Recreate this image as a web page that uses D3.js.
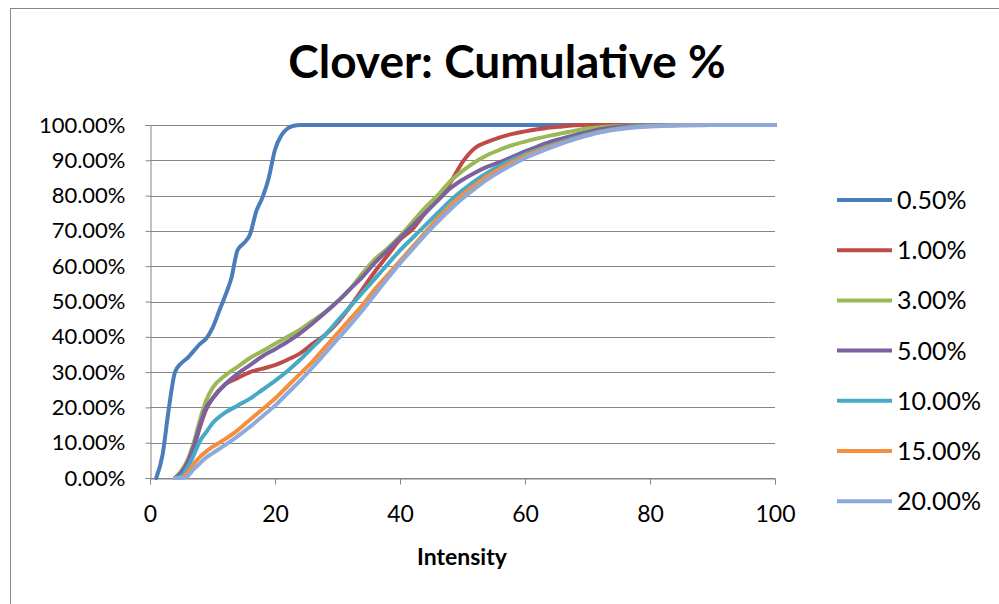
<!DOCTYPE html>
<html><head><meta charset="utf-8">
<script src="https://cdn.jsdelivr.net/npm/d3@7"></script>
<style>body{margin:0;background:#fff}svg{display:block}</style>
</head><body>
<svg id="c" width="999" height="604"></svg>
<script>
// ---- data ----
const seriesNames = ["0.50%","1.00%","3.00%","5.00%","10.00%","15.00%","20.00%"];
const seriesColors = ["#4A7EBB","#BE4B48","#98B954","#7D60A0","#46AAC5","#F38F3E","#8EA9DB"];
const xTicks = [0,20,40,60,80,100];
const yTicks = [0,10,20,30,40,50,60,70,80,90,100];

const intensityFine = [1,2,3,4,5,6,7,8,9,10,11,12,13,14,15,16,17,18,19,20,21,22,23,24,100];
const cum050 = [0,6.5,19.5,30,32.5,34,36,38,39.5,42.5,47,51.5,56.5,64.5,66.5,69,75.5,79.5,85,93,97,99,99.8,100,100];

const intensity = [4,5,6,7,8,9,10,12,14,16,18,20,22,24,26,28,30,32,34,36,38,40,42,44,46,48,50,52,54,56,58,60,62,64,66,68,70,72,75,80,90,100];
const cum100 = [0,1.5,4,8.5,14.5,19.5,22.5,26.5,28.3,30,31,32,33.5,35.3,38,40.5,44,48.5,53.5,58.5,63,67.5,70.5,75,79,83.5,89.5,93.5,95.2,96.5,97.5,98.2,98.8,99.3,99.6,99.9,100,100,100,100,100,100];
const cum300 = [0,2,5,10,16.5,22,25.5,29,31.5,34,36,38,40,42,44.5,47,50,53.5,58,62,65,68.5,72.5,76.5,80,84,87,89.5,91.5,93,94.3,95.3,96.2,97,97.7,98.4,99,99.4,99.7,100,100,100];
const cum500 = [0,1.5,4.5,9,15,20,22.5,26.5,29.5,32,34.5,36.5,38.6,41,43.8,46.8,50,53.5,57,61,64.5,68,71.5,75,78.5,82,84.5,86.5,88.2,89.5,91,92.5,93.9,95.2,96.2,97.2,98,98.8,99.5,100,100,100];
const cum1000 = [0,0.5,3,6.5,10.5,13,15.5,18.5,20.5,22.5,25,27.5,30.3,33.5,37,40.5,44.5,48.5,52.5,56.5,60.5,64.5,68,71.5,75,78.5,81.5,84.2,86.5,88.5,90.2,91.7,93,94.2,95.3,96.4,97.4,98.2,99.1,99.9,100,100];
const cum1500 = [0,0,1.5,4,6,7.5,8.8,11,13.5,16.5,19.5,22.5,26,29.5,33,37,41,45,49,53.5,57.5,61.5,65.5,69.5,73.5,77,80.3,83,85.5,87.6,89.5,91.2,92.6,93.9,95,96.1,97.1,98,98.9,99.7,100,100];
const cum2000 = [0,0,0.5,2.5,4.2,5.8,7,9.3,11.8,14.5,17.5,20.5,24,27.5,31.3,35.3,39.3,43.3,47.5,52,56.5,60.8,64.8,68.8,72.5,76,79.2,82,84.6,86.8,88.8,90.6,92.1,93.5,94.8,96,97,97.9,98.8,99.6,100,100];

const seriesData = [
  [intensityFine, cum050],
  [intensity, cum100],
  [intensity, cum300],
  [intensity, cum500],
  [intensity, cum1000],
  [intensity, cum1500],
  [intensity, cum2000]
];

// ---- layout ----
const svg = d3.select("#c");
const FONT = "Lato, 'Open Sans', sans-serif";
const L = 150, R = 775, T = 125, B = 478;
const x = d3.scaleLinear().domain([0,100]).range([L,R]);
const y = d3.scaleLinear().domain([0,100]).range([B,T]);

// outer border
svg.append("rect").attr("x",10.5).attr("y",8.5).attr("width",1100).attr("height",700)
  .attr("fill","#fff").attr("stroke","#868686").attr("stroke-width",1);

// title
svg.append("text").attr("x",507).attr("y",78).attr("text-anchor","middle")
  .attr("font-family",FONT).attr("font-weight","bold").attr("font-size",46)
  .attr("fill","#000").text("Clover: Cumulative %");

// gridlines
svg.append("g").selectAll("line").data(yTicks).join("line")
  .attr("x1",L).attr("x2",R).attr("y1",d=>Math.round(y(d))+0.5).attr("y2",d=>Math.round(y(d))+0.5)
  .attr("stroke","#868686").attr("stroke-width",1);

// y axis
const yAxis = d3.axisLeft(y).tickValues(yTicks).tickSize(5).tickPadding(20)
  .tickFormat(d=>d.toFixed(2)+"%");
const gy = svg.append("g").attr("transform",`translate(${L+0.5},0)`).call(yAxis);
gy.select(".domain").attr("stroke","#868686");
gy.selectAll(".tick line").attr("stroke","#868686");
gy.selectAll(".tick text").attr("font-family",FONT).attr("font-size",22).attr("fill","#000");

// x axis
const xAxis = d3.axisBottom(x).tickValues(xTicks).tickSize(6).tickPadding(21);
const gx = svg.append("g").attr("transform",`translate(0,${B+0.5})`).call(xAxis);
gx.select(".domain").attr("stroke","#868686");
gx.selectAll(".tick line").attr("stroke","#868686");
gx.selectAll(".tick text").attr("font-family",FONT).attr("font-size",23).attr("fill","#000");

svg.append("text").attr("x",462).attr("y",565).attr("text-anchor","middle")
  .attr("font-family",FONT).attr("font-weight","bold").attr("font-size",23)
  .attr("fill","#000").text("Intensity");

// lines
const line = d3.line().x(d=>x(d[0])).y(d=>y(d[1])).curve(d3.curveMonotoneX);
seriesData.forEach(([xs,ys],i)=>{
  const pts = xs.map((v,j)=>[v,ys[j]]);
  svg.append("path").attr("d",line(pts)).attr("fill","none")
    .attr("stroke",seriesColors[i]).attr("stroke-width",4)
    .attr("stroke-linejoin","round").attr("stroke-linecap","round");
});

// legend
const lg = svg.append("g");
seriesNames.forEach((n,i)=>{
  const yy = 200 + i*50.2;
  lg.append("line").attr("x1",837).attr("x2",892).attr("y1",yy).attr("y2",yy)
    .attr("stroke",seriesColors[i]).attr("stroke-width",4);
  lg.append("text").attr("x",897).attr("y",yy).attr("dy","0.36em")
    .attr("font-family",FONT).attr("font-size",25).attr("fill","#000").text(n);
});
</script>
</body></html>
